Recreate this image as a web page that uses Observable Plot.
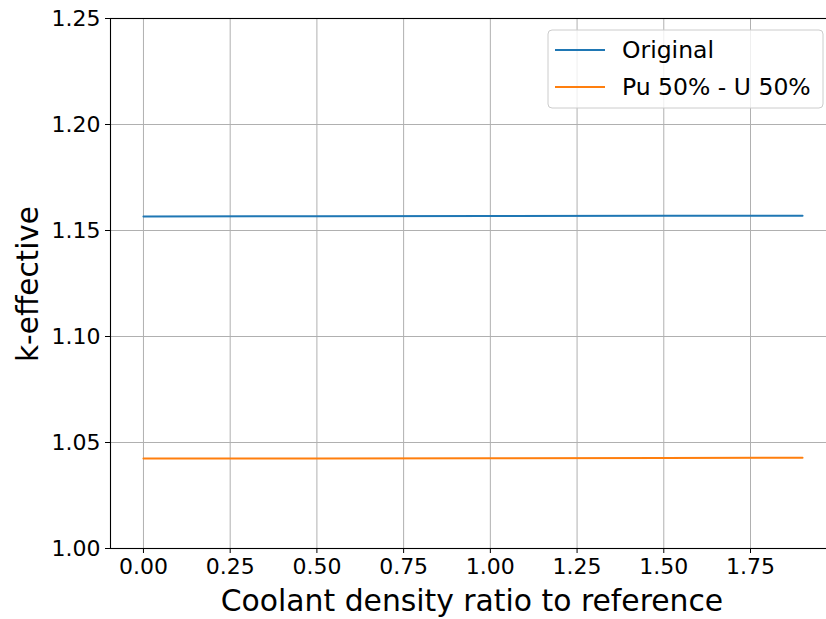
<!DOCTYPE html>
<html>
<head>
<meta charset="utf-8">
<script src="https://cdn.jsdelivr.net/npm/d3@7"></script>
<script src="https://cdn.jsdelivr.net/npm/@observablehq/plot@0.6"></script>
<style>
  html, body { margin: 0; padding: 0; background: #fff; overflow: hidden; }
  #chart { width: 826px; height: 619px; overflow: hidden; }
  #chart svg { display: block; max-width: none !important; width: 836px; height: 619px; }
</style>
</head>
<body>
<div id="chart"></div>
<script>
// Coolant density ratio (relative to reference) sampled in the calculation
const densityRatio = [0.0, 0.5, 1.0, 1.5, 1.9];
// k-effective for each fuel configuration
const kOriginal = [1.1566, 1.1567, 1.1568, 1.1569, 1.1570];
const kPuU = [1.0424, 1.0425, 1.0426, 1.0427, 1.0428];

const seriesNames = ["Original", "Pu 50% - U 50%"];
const seriesColors = ["#1f77b4", "#ff7f0e"];

const xTicks = [0.0, 0.25, 0.5, 0.75, 1.0, 1.25, 1.5, 1.75];
const yTicks = [1.00, 1.05, 1.10, 1.15, 1.20, 1.25];

const xLabel = "Coolant density ratio to reference";
const yLabel = "k-effective";

const rows = [];
[kOriginal, kPuU].forEach((vals, i) => {
  vals.forEach((k, j) => rows.push({x: densityRatio[j], k, series: seriesNames[i]}));
});

const fmt = d3.format(".2f");
const font = "DejaVu Sans, sans-serif";

const chart = Plot.plot({
  width: 836,
  height: 619,
  marginTop: 18,
  marginBottom: 71,
  marginLeft: 110,
  marginRight: 1,
  style: {fontFamily: font, fontSize: "22px", background: "white", color: "black", maxWidth: "none"},
  x: {domain: [-0.095, 1.995]},
  y: {domain: [1.0, 1.25]},
  color: {domain: seriesNames, range: seriesColors},
  marks: [
    Plot.gridX(xTicks, {stroke: "#b0b0b0", strokeOpacity: 1, strokeWidth: 1}),
    Plot.gridY(yTicks, {stroke: "#b0b0b0", strokeOpacity: 1, strokeWidth: 1}),
    Plot.axisX(xTicks, {tickFormat: fmt, tickSize: 5, tickPadding: 5, label: null, fontSize: 22}),
    Plot.axisY(yTicks, {tickFormat: fmt, tickSize: 5, tickPadding: 5, label: null, fontSize: 22}),
    Plot.lineY(rows, {x: "x", y: "k", z: "series", stroke: "series", strokeWidth: 2}),
    Plot.frame({stroke: "black", strokeWidth: 1.1})
  ]
});

// Axis titles and legend added to the same SVG
const svg = d3.select(chart);
svg.append("text")
  .attr("x", 472).attr("y", 611)
  .attr("text-anchor", "middle")
  .attr("font-family", font).attr("font-size", 29.8)
  .text(xLabel);
svg.append("text")
  .attr("transform", "translate(38,284) rotate(-90)")
  .attr("text-anchor", "middle")
  .attr("font-family", font).attr("font-size", 29.5)
  .text(yLabel);

const lg = svg.append("g").attr("transform", "translate(548,30)");
lg.append("rect")
  .attr("width", 275).attr("height", 78)
  .attr("rx", 4).attr("ry", 4)
  .attr("fill", "white").attr("fill-opacity", 0.8)
  .attr("stroke", "#cccccc").attr("stroke-width", 1);
seriesNames.forEach((name, i) => {
  const cy = 20 + i * 37;
  lg.append("line")
    .attr("x1", 7).attr("x2", 57).attr("y1", cy).attr("y2", cy)
    .attr("stroke", seriesColors[i]).attr("stroke-width", 2);
  lg.append("text")
    .attr("x", 74).attr("y", cy).attr("dy", "0.35em")
    .attr("text-anchor", "start")
    .attr("font-family", font).attr("font-size", 23.5)
    .text(name);
});

document.getElementById("chart").appendChild(chart);
</script>
</body>
</html>
